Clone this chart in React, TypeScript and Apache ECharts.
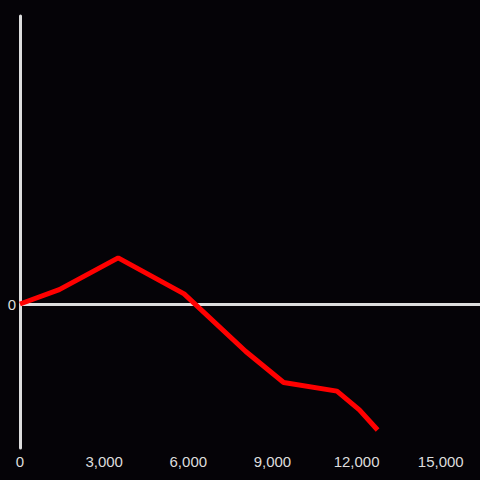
import React, { useEffect, useRef } from "react";
import * as echarts from "echarts";

const xValues = [0, 1400, 3500, 5850, 8050, 9400, 11300, 12100, 12750];
const yValues = [0, 100, 320, 70, -330, -545, -605, -735, -875];
const xTicks = { min: 0, max: 16400, interval: 3000 };
const yRange = { min: -1000, max: 2000 };

export default function App() {
  const ref = useRef<HTMLDivElement>(null);
  useEffect(() => {
    if (!ref.current) return;
    const chart = echarts.init(ref.current, null, { renderer: "svg" });
    const data = xValues.map((x, i) => [x, yValues[i]]);
    chart.setOption({
      animation: false,
      backgroundColor: "#050307",
      grid: { left: 20, right: 0, top: 16, bottom: 32 },
      xAxis: {
        type: "value",
        min: xTicks.min,
        max: xTicks.max,
        interval: xTicks.interval,
        axisLine: { show: false, onZero: false },
        axisTick: { show: false },
        splitLine: { show: false },
        axisLabel: {
          color: "#dddddd",
          fontSize: 15,
          fontFamily: "Liberation Sans",
          margin: 6,
          showMaxLabel: false,
          formatter: (v: number) => (v % 3000 === 0 && v <= 15000 ? v.toLocaleString("en-US") : ""),
        },
      },
      yAxis: {
        type: "value",
        min: yRange.min,
        max: yRange.max,
        interval: 1000,
        axisLine: { show: true, onZero: false, lineStyle: { color: "#dddddd", width: 3 } },
        axisTick: { show: false },
        splitLine: { show: false },
        axisLabel: {
          color: "#dddddd",
          fontSize: 15,
          fontFamily: "Liberation Sans",
          margin: 4,
          formatter: (v: number) => (v === 0 ? "0" : ""),
        },
      },
      series: [
        {
          type: "line",
          data,
          showSymbol: false,
          symbol: "none",
          lineStyle: { color: "#ff0000", width: 5 },
          z: 3,
          markLine: {
            silent: true,
            symbol: "none",
            label: { show: false },
            lineStyle: { color: "#dddddd", width: 3, type: "solid" },
            data: [{ yAxis: 0 }],
            z: 2,
          },
        },
      ],
    });
    return () => chart.dispose();
  }, []);
  return (
    <div
      ref={ref}
      style={{ position: "fixed", left: 0, top: 0, width: 480, height: 480 }}
    />
  );
}
